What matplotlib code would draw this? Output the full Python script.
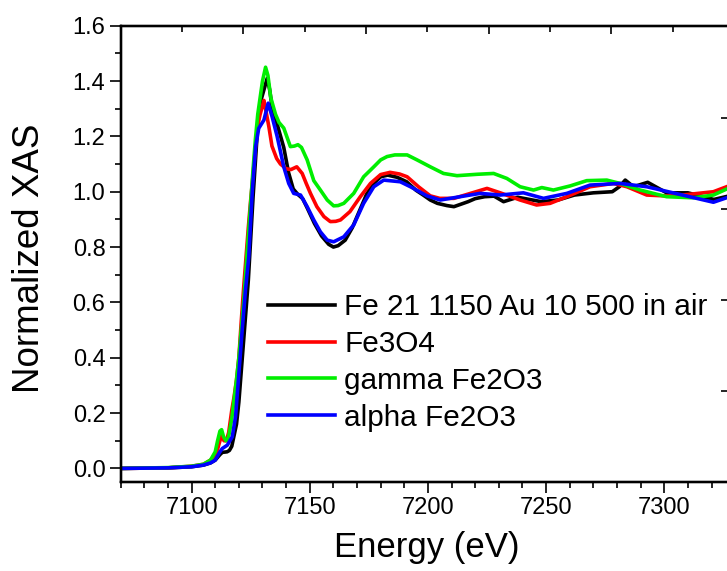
import matplotlib
matplotlib.use("Agg")
import matplotlib.pyplot as plt
from matplotlib.ticker import MultipleLocator, FixedLocator

plt.rcParams['font.family'] = ['Liberation Sans', 'DejaVu Sans']

labels = ["Fe 21 1150 Au 10 500 in air", "Fe3O4", "gamma Fe2O3", "alpha Fe2O3"]
colors = ["#000000", "#ff0000", "#00ee00", "#0000ff"]

e_black = [7070, 7090, 7100, 7105, 7108, 7110, 7112, 7113, 7115, 7116, 7117, 7118, 7119, 7120,
           7121, 7122, 7123, 7124, 7125, 7126, 7127, 7128, 7129, 7130, 7131, 7132, 7133, 7134,
           7136, 7139, 7141, 7143, 7145, 7147, 7149, 7152, 7155, 7158, 7160, 7162, 7165, 7168,
           7171, 7174, 7177, 7180, 7183, 7187, 7191, 7195, 7198, 7201, 7204, 7208, 7211, 7214,
           7217, 7220, 7224, 7228, 7232, 7235, 7238, 7243, 7248, 7255, 7262, 7270, 7278, 7281,
           7283.5, 7287, 7293, 7301, 7310, 7321, 7327]
y_black = [0.0, 0.002, 0.006, 0.012, 0.02, 0.03, 0.05, 0.058, 0.06, 0.065, 0.08, 0.12, 0.16, 0.24,
           0.35, 0.46, 0.57, 0.68, 0.83, 0.98, 1.11, 1.24, 1.32, 1.35, 1.38, 1.41, 1.37, 1.31,
           1.25, 1.16, 1.07, 1.01, 0.99, 0.975, 0.94, 0.885, 0.84, 0.81, 0.80, 0.805, 0.825, 0.87,
           0.93, 0.99, 1.03, 1.054, 1.06, 1.052, 1.036, 1.005, 0.988, 0.97, 0.958, 0.95, 0.946, 0.955,
           0.964, 0.975, 0.982, 0.984, 0.964, 0.972, 0.98, 0.972, 0.964, 0.97, 0.988, 0.996, 1.0, 1.018,
           1.042, 1.018, 1.034, 0.996, 0.996, 0.972, 0.984]

e_fe3o4 = [7070, 7090, 7100, 7105, 7108, 7110, 7111, 7112, 7112.7, 7113.7, 7114.7, 7115.7, 7117,
           7118, 7119, 7120, 7121, 7122, 7123, 7124, 7125, 7126, 7127, 7128, 7129, 7130, 7130.6,
           7131.5, 7132.7, 7134, 7136, 7137.6, 7140, 7142, 7144.5, 7146.8, 7148.5, 7150.3, 7153,
           7156, 7158.7, 7161, 7163, 7167, 7171.4, 7175.7, 7180, 7184, 7188, 7191.2, 7196, 7201,
           7205, 7211, 7218, 7225, 7230.6, 7239, 7246, 7251.7, 7258.8, 7268.6, 7278.5, 7284.2,
           7292.6, 7302.5, 7310, 7320.8, 7327]
y_fe3o4 = [0.0, 0.002, 0.008, 0.015, 0.03, 0.05, 0.07, 0.10, 0.12, 0.10, 0.10, 0.13, 0.21,
           0.26, 0.32, 0.40, 0.53, 0.65, 0.76, 0.87, 0.97, 1.06, 1.16, 1.24, 1.28, 1.31, 1.33,
           1.29, 1.235, 1.165, 1.12, 1.10, 1.083, 1.08, 1.09, 1.066, 1.03, 0.994, 0.946,
           0.91, 0.892, 0.893, 0.898, 0.928, 0.982, 1.03, 1.062, 1.07, 1.064, 1.054, 1.018, 0.985,
           0.976, 0.976, 0.994, 1.012, 0.996, 0.97, 0.952, 0.958, 0.982, 1.018, 1.03, 1.018,
           0.988, 0.984, 0.99, 1.0, 1.02]

e_gamma = [7070, 7090, 7100, 7105, 7108, 7110, 7111, 7112, 7112.7, 7113.5, 7114.5, 7115.5, 7116,
           7117, 7118, 7119, 7120, 7121, 7122, 7123, 7124, 7125, 7126, 7127, 7128, 7129, 7130,
           7131.3, 7132.3, 7133.5, 7135.5, 7137, 7139, 7141.8, 7143.5, 7145, 7146.5, 7148.9,
           7151.7, 7154.5, 7157.4, 7160.1, 7162, 7164.4, 7168.6, 7172.8, 7177.1, 7180, 7182.7,
           7186, 7191.2, 7195.4, 7201, 7206.6, 7212.3, 7220.8, 7227.8, 7233.4, 7239, 7244.7,
           7248.2, 7253.1, 7260.2, 7267.2, 7275.7, 7281.3, 7289.8, 7301, 7312.3, 7320.8, 7327]
y_gamma = [0.0, 0.003, 0.008, 0.015, 0.03, 0.06, 0.10, 0.135, 0.14, 0.115, 0.10, 0.11, 0.13,
           0.18, 0.25, 0.32, 0.40, 0.50, 0.60, 0.72, 0.84, 0.96, 1.08, 1.19, 1.28, 1.34, 1.40,
           1.45, 1.42, 1.34, 1.28, 1.25, 1.23, 1.163, 1.165, 1.17, 1.16, 1.115,
           1.04, 1.006, 0.97, 0.949, 0.95, 0.958, 0.994, 1.054, 1.09, 1.115, 1.127,
           1.133, 1.133, 1.115, 1.09, 1.066, 1.058, 1.063, 1.066, 1.048, 1.018, 1.006,
           1.015, 1.006, 1.021, 1.04, 1.042, 1.030, 1.006, 0.982, 0.978, 0.988, 1.012]

e_alpha = [7070, 7090, 7100, 7105, 7108, 7110, 7112, 7113, 7115.1, 7117.2, 7118.6, 7120, 7121.4,
           7122.8, 7124.2, 7125.7, 7127.1, 7128.4, 7130.6, 7132.4, 7134.1, 7136.2, 7139, 7141.1,
           7143.2, 7146.1, 7148.9, 7151.7, 7154.5, 7157.4, 7160.1, 7164.4, 7168.6, 7172.8, 7177.1,
           7181.3, 7188.3, 7192.6, 7199.6, 7205.2, 7213.6, 7222.1, 7230.6, 7240.4, 7248.9, 7258.8,
           7268.6, 7281.3, 7292.6, 7306.7, 7320.8, 7327]
y_alpha = [0.0, 0.002, 0.006, 0.012, 0.02, 0.03, 0.06, 0.072, 0.084, 0.114, 0.187, 0.343, 0.5,
           0.645, 0.765, 1.006, 1.163, 1.229, 1.259, 1.32, 1.27, 1.2, 1.09, 1.03,
           0.994, 0.988, 0.946, 0.898, 0.855, 0.825, 0.819, 0.837, 0.88, 0.958, 1.018,
           1.042, 1.036, 1.018, 0.985, 0.97, 0.982, 0.994, 0.988, 0.996, 0.976, 0.994,
           1.024, 1.03, 1.018, 0.99, 0.962, 0.98]

W, H = 727, 571
fig = plt.figure(figsize=(W / 100, H / 100), dpi=100)
ax_l, ax_r, ax_b, ax_t = 120.7, 729.0, 481.7, 25.7
ax = fig.add_axes([ax_l / W, 1 - ax_b / H, (ax_r - ax_l) / W, (ax_b - ax_t) / H])

series = [(e_black, y_black), (e_fe3o4, y_fe3o4), (e_gamma, y_gamma), (e_alpha, y_alpha)]
for (e, y), c, lab in zip(series, colors, labels):
    ax.plot(e, y, color=c, lw=2.6, label=lab, solid_joinstyle='round')

ax.set_xlim(7070, 7327.4)
ax.set_ylim(-0.048, 1.6)
ax.xaxis.set_major_locator(MultipleLocator(50))
ax.xaxis.set_minor_locator(MultipleLocator(10))
ax.yaxis.set_major_locator(MultipleLocator(0.2))
ax.yaxis.set_minor_locator(MultipleLocator(0.1))
ax.yaxis.set_major_formatter(matplotlib.ticker.FormatStrFormatter('%.1f'))
ax.tick_params(which='major', direction='out', length=8, width=1.2, labelsize=17, pad=3)
ax.tick_params(which='minor', direction='out', length=4.5, width=1.2)
ax.tick_params(top=False, right=False)
for s in ax.spines.values():
    s.set_linewidth(1.6)

# top frame ticks (inward, independent spacing)
axt = ax.twiny()
axt.set_xlim(0, (ax_r - ax_l) / 122.7)
axt.xaxis.set_major_locator(MultipleLocator(1))
axt.xaxis.set_minor_locator(MultipleLocator(0.5))
axt.tick_params(which='major', direction='in', length=6, width=1.2, labeltop=False)
axt.tick_params(which='minor', direction='in', length=4, width=1.2)
# right frame ticks (inward)
axr = ax.twinx()
axr.set_ylim(0, (ax_b - ax_t) / 91.0)
axr.yaxis.set_major_locator(FixedLocator([1, 2, 3, 4]))
axr.tick_params(which='major', direction='in', length=6, width=1.2, labelright=False)
for a in (axt, axr):
    for s in a.spines.values():
        s.set_linewidth(1.6)

fig.text(30 / W, 1 - 258 / H, "Normalized XAS", rotation=90, ha='center', va='center', fontsize=26.5)
fig.text(427 / W, 1 - 548 / H, "Energy (eV)", ha='center', va='center', fontsize=25)

handles, labs = ax.get_legend_handles_labels()
ax.legend(handles, labs, loc='upper left', bbox_to_anchor=(268 / W, 1 - 293 / H),
          bbox_transform=fig.transFigure, frameon=False, fontsize=21.4, borderpad=0,
          borderaxespad=0, handlelength=2.25, handletextpad=0.32, labelspacing=0.3)

fig.savefig("out.png", dpi=100)
